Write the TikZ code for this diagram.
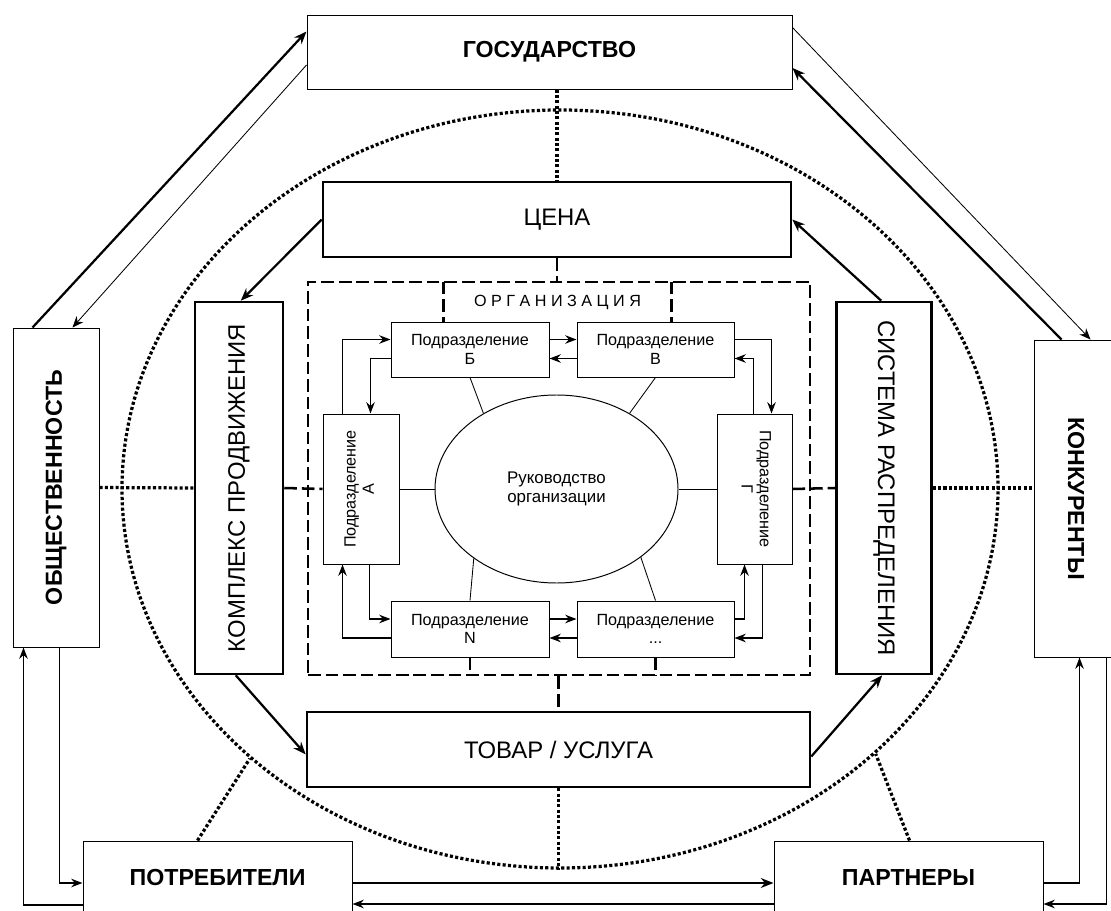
\documentclass[tikz,border=0pt]{standalone}
\usepackage{fontspec}
\setmainfont{Liberation Sans}
\usepackage{graphicx}
\usetikzlibrary{arrows.meta,calc,shapes.geometric}
\def\pxu{0.025cm}
\newcommand{\outerfont}{\fontsize{16.5}{20}\selectfont\bfseries}
\newcommand{\midfont}{\fontsize{17}{20}\selectfont}
\newcommand{\subfont}{\fontsize{11.5}{13}\selectfont}
\newcommand{\vlab}[3]{\rotatebox{#1}{\begin{tabular}{@{}c@{}}#2\\#3\end{tabular}}}
\tikzset{
  outerbox/.style={rectangle, draw, line width=0.7pt, fill=white, inner sep=0pt, font=\outerfont},
  midbox/.style  ={rectangle, draw, line width=1.8pt, fill=white, inner sep=0pt, font=\midfont},
  subbox/.style  ={rectangle, draw, line width=0.7pt, fill=white, inner sep=0pt,
                   align=center, font=\subfont},
  dsh/.style ={line width=1.8pt, dash pattern=on 9pt off 3.5pt},
  dts/.style ={line width=2.3pt, dash pattern=on 2.2pt off 1.6pt},
  thk/.style ={-{Stealth[length=9pt,width=7pt]}, line width=1.6pt},
  thn/.style ={-{Stealth[length=8pt,width=6.5pt]}, line width=0.6pt},
  ia/.style  ={-{Stealth[length=8pt,width=6pt]}, line width=1.3pt},
  tie/.style ={line width=0.6pt}
}

\begin{document}
\begin{tikzpicture}[x=0.025cm, y=-0.025cm]
\useasboundingbox (0,0) rectangle (1111,911);
\clip (0,0) rectangle (1111,911);
\fill[white] (0,0) rectangle (1111,911);

% dotted ring of the environment
\node[ellipse, draw, dts, minimum width=876*\pxu, minimum height=758*\pxu] (ring) at (560,489) {};

% outer boxes
\node[outerbox, minimum width=485*\pxu, minimum height=74*\pxu] (gos) at (549.5,52) {ГОСУДАРСТВО};
\node[outerbox, minimum width=86*\pxu, minimum height=319*\pxu] (obsh) at (56,487.5) {\rotatebox{90}{ОБЩЕСТВЕННОСТЬ}};
\node[outerbox, minimum width=84*\pxu, minimum height=317*\pxu] (konk) at (1076,498.5) {\rotatebox{-90}{КОНКУРЕНТЫ}};
\node[outerbox, minimum width=269*\pxu, minimum height=74*\pxu] (pot) at (217.5,878) {ПОТРЕБИТЕЛИ};
\node[outerbox, minimum width=269*\pxu, minimum height=74*\pxu] (part) at (908.5,878) {ПАРТНЕРЫ};

% marketing mix
\node[midbox, minimum width=468*\pxu, minimum height=75*\pxu] (cena) at (557,219.5) {ЦЕНА};
\node[midbox, minimum width=503*\pxu, minimum height=75*\pxu] (tovar) at (558.5,749.5) {ТОВАР / УСЛУГА};
\node[midbox, minimum width=88*\pxu, minimum height=372*\pxu] (kompl) at (239,488) {\rotatebox{90}{КОМПЛЕКС ПРОДВИЖЕНИЯ}};
\node[midbox, minimum width=95*\pxu, minimum height=372*\pxu] (sist) at (884,488) {\rotatebox{-90}{СИСТЕМА РАСПРЕДЕЛЕНИЯ}};

% organisation
\node[draw, dsh, minimum width=502*\pxu, minimum height=393*\pxu] (org) at (559,478.5) {};
\node[minimum width=227*\pxu, minimum height=40*\pxu, font=\subfont] (orgl) at (557.5,302) {О Р Г А Н И З А Ц И Я};
\draw[dsh] (orgl.north west) -- (orgl.south west) (orgl.north east) -- (orgl.south east);

\node[subbox, minimum width=158*\pxu, minimum height=55*\pxu] (pb) at (470,349.5) {Подразделение\\Б};
\node[subbox, minimum width=157*\pxu, minimum height=55*\pxu] (pv) at (655.5,349.5) {Подразделение\\В};
\node[subbox, minimum width=158*\pxu, minimum height=56*\pxu] (pn) at (470,629) {Подразделение\\N};
\node[subbox, minimum width=157*\pxu, minimum height=56*\pxu] (pd) at (655.5,629) {Подразделение\\...};
\node[subbox, minimum width=76*\pxu, minimum height=150*\pxu] (pa) at (361,489) {\vlab{90}{Подразделение}{А}};
\node[subbox, minimum width=75*\pxu, minimum height=150*\pxu] (pg) at (754.5,489) {\vlab{-90}{Подразделение}{Г}};
\node[ellipse, draw, line width=0.7pt, inner sep=0pt, minimum width=243*\pxu, minimum height=188*\pxu,
      align=center, font=\fontsize{12}{14}\selectfont] (ruk) at (556.5,489) {Руководство\\организации};

\foreach \a/\b in {pa.east/ruk.west, ruk.east/pg.west, pb.south/ruk.134,
                   pv.south/ruk.46, pn.north/ruk.220, pd.north/ruk.321}
  {\draw[tie] (\a) -- (\b);}

% links inside the organisation
\draw[ia] ($(pa.north west)+(20,0)$) |- ($(pb.west)+(0,-10)$);
\draw[ia] ($(pb.west)+(0,9)$) -| ($(pa.north west)+(48,0)$);
\draw[ia] ($(pb.east)+(0,-10)$) -- ($(pv.west)+(0,-10)$);
\draw[ia] ($(pv.west)+(0,9)$) -- ($(pb.east)+(0,9)$);
\draw[ia] ($(pv.east)+(0,-10)$) -| ($(pg.north west)+(55,0)$);
\draw[ia] ($(pg.north west)+(37,0)$) |- ($(pv.east)+(0,9)$);
\draw[ia] ($(pa.south west)+(47,0)$) |- ($(pn.west)+(0,-10)$);
\draw[ia] ($(pn.west)+(0,9)$) -| ($(pa.south west)+(20,0)$);
\draw[ia] ($(pn.east)+(0,-10)$) -- ($(pd.west)+(0,-10)$);
\draw[ia] ($(pd.west)+(0,9)$) -- ($(pn.east)+(0,9)$);
\draw[ia] ($(pd.east)+(0,-10)$) -| ($(pg.south west)+(28,0)$);
\draw[ia] ($(pg.south west)+(46,0)$) |- ($(pd.east)+(0,9)$);

% dashed ties
\draw[dsh] (cena.south) -- (cena.south |- org.north);
\draw[dsh] (org.south -| tovar.north) -- (tovar.north);
\draw[dsh] (kompl.east) -- (pa.west);
\draw[dsh] (pg.east) -- (sist.west);
\draw[dsh] (pn.south) -- (pn.south |- org.south);
\draw[dsh] (pd.south) -- (pd.south |- org.south);

% dotted ties
\draw[dts] (gos.south -| cena.north) -- (cena.north);
\draw[dts] (obsh.east) -- (kompl.west);
\draw[dts] (sist.east) -- (sist.east -| konk.west);
\draw[dts] (tovar.south) -- (tovar.south |- ring.south);
\draw[dts] ($(pot.north west)+(115,0)$) -- (ring.221);
\draw[dts] ($(part.north west)+(136,0)$) -- (ring.320);

% marketing mix cycle
\draw[thk] (cena.west) -- ($(kompl.north west)+(47,0)$);
\draw[thk] ($(kompl.south west)+(42,0)$) -- ($(tovar.west)+(0,5)$);
\draw[thk] ($(tovar.east)+(0,7)$) -- ($(sist.south west)+(47,0)$);
\draw[thk] ($(sist.north west)+(46,0)$) -- (cena.east);

% outer links
\draw[thk] ($(obsh.north west)+(20,0)$) -- ($(gos.north west)+(0,17)$);
\draw[thn] ($(gos.west)+(0,13)$) -- ($(obsh.north west)+(60,0)$);
\draw[thn] ($(gos.north east)+(0,13)$) -- ($(konk.north west)+(57,0)$);
\draw[thk] ($(konk.north west)+(28,0)$) -- ($(gos.east)+(0,16)$);
\draw[ia] ($(obsh.south west)+(47,0)$) |- ($(pot.west)+(0,5)$);
\draw[ia] ($(pot.west)+(0,27)$) -| ($(obsh.south west)+(11,0)$);
\draw[thk] ($(pot.east)+(0,5)$) -- ($(part.west)+(0,5)$);
\draw[ia] ($(part.west)+(0,26)$) -- ($(pot.east)+(0,26)$);
\draw[ia] ($(part.east)+(0,5)$) -| ($(konk.south west)+(46,0)$);
\draw[ia] ($(konk.south west)+(73,0)$) |- ($(part.east)+(0,26)$);
\end{tikzpicture}
\end{document}
